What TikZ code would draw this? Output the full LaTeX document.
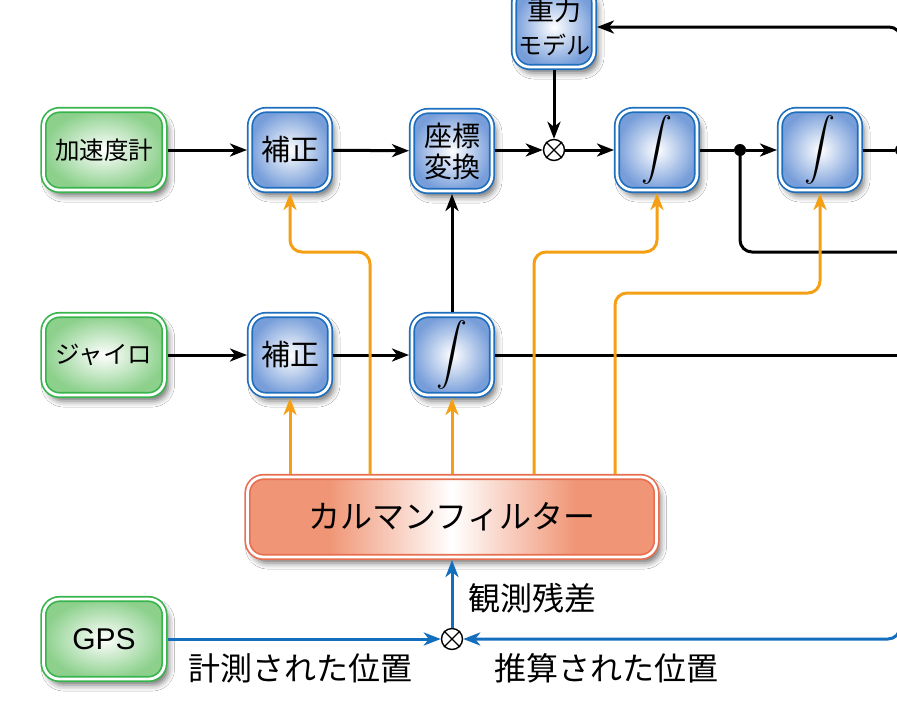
\documentclass[tikz,border=0pt]{standalone}
\usepackage{fontspec}
\setmainfont{Noto Sans CJK JP}
\newfontfamily\latinsans{Liberation Sans}
\usetikzlibrary{arrows.meta,shadows.blur,calc}

\definecolor{bline}{RGB}{30,110,190}
\definecolor{bfill}{RGB}{120,158,218}
\definecolor{gline}{RGB}{55,180,75}
\definecolor{gfill}{RGB}{140,208,140}
\definecolor{kline}{RGB}{232,110,80}
\definecolor{kfill}{RGB}{240,150,118}
\definecolor{oline}{RGB}{245,160,20}
\definecolor{wline}{RGB}{20,110,190}

\pgfdeclarehorizontalshading{kfshade}{100bp}{color(0bp)=(kfill); color(35bp)=(kfill); color(50bp)=(white); color(65bp)=(kfill); color(100bp)=(kfill)}

\begin{document}
\begin{tikzpicture}[x=1pt,y=-1pt,
  box/.style={rectangle, rounded corners=16pt, line width=1.7pt, double=white,
    double distance=2.8pt, inner sep=0pt, outer sep=3pt,
    minimum width=80pt, minimum height=80pt,
    blur shadow={shadow xshift=4pt, shadow yshift=-6pt, shadow blur radius=6pt, shadow opacity=55}},
  bbox/.style={box, draw=bline, inner color=white, outer color=bfill, font=\fontsize{29}{32}\selectfont},
  gbox/.style={box, draw=gline, inner color=white, outer color=gfill, minimum width=121pt, font=\fontsize{24.5}{28}\selectfont},
  kbox/.style={box, draw=kline, shading=kfshade, minimum width=409pt, font=\fontsize{32}{34}\selectfont},
  intbox/.style={bbox},
  mulnode/.style={circle, draw=black, line width=1.4pt, minimum size=21pt, inner sep=0pt, fill=white},
  dotn/.style={circle, fill=black, minimum size=12pt, inner sep=0pt},
  lab/.style={font=\fontsize{32}{34}\selectfont, inner sep=0pt},
  tip/.style={-{Stealth[length=17pt,width=13pt,inset=5pt]}},
  bl/.style={line width=3pt, draw=black},
  barr/.style={bl, tip},
  ol/.style={line width=3pt, draw=oline},
  oarr/.style={ol, tip},
  wl/.style={line width=3pt, draw=wline},
  warr/.style={wl, tip},
]
\useasboundingbox (0,0) rectangle (897,710);
\fill[white] (0,0) rectangle (897,710);
\clip (0,0) rectangle (897,710);

% nodes
\node[gbox] (acc) at (104,150) {加速度計};
\node[bbox] (cor1) at (290,150) {補正};
\node[bbox, align=center, font=\fontsize{28}{31}\selectfont] (coord) at (452,151) {座標\\変換};
\node[mulnode] (mul1) at (554,150) {};
\node[bbox, align=center, font=\fontsize{27}{34}\selectfont] (grav) at (554,27) {重力\\{\fontsize{24}{34}\selectfont モデル}};
\node[intbox] (int1) at (657,150) {\scalebox{3.1}{$\displaystyle\int$}};
\node[dotn] (dot1) at (740,150) {};
\node[intbox] (int2) at (820,150) {\scalebox{3.1}{$\displaystyle\int$}};
\node[dotn] (dot2) at (901,150) {};

\node[gbox] (gyro) at (104,355) {ジャイロ};
\node[bbox] (cor2) at (290,355) {補正};
\node[intbox] (int3) at (452,355) {\scalebox{3.1}{$\displaystyle\int$}};

\node[kbox] (kf) at (452,517) {カルマンフィルター};

\node[gbox, font=\latinsans\fontsize{30}{32}\selectfont] (gps) at (104,639) {GPS};
\node[mulnode] (mul2) at (452,639) {};

\node[lab, anchor=west] (resid) at (468,598) {観測残差};
\node[lab] (meas) at (300,668) {計測された位置};
\node[lab] (est) at (606,668) {推算された位置};

% crosses
\foreach \m in {mul1,mul2}{
  \draw[line width=1.2pt] (\m.north east) -- (\m.south west) (\m.north west) -- (\m.south east);
}

% coordinates
\coordinate (offA) at (920,252);
\coordinate (offB) at (920,355);
\coordinate (offC) at (900,500);
\coordinate (oa) at (370,252);
\coordinate (ob) at (534,252);
\coordinate (oc) at (615,293);

% black connectors
\draw[barr] (acc) -- (cor1);
\draw[barr] (cor1) -- (coord);
\draw[barr] (coord.east |- mul1) -- (mul1);
\draw[barr] (grav) -- (mul1);
\draw[barr] (mul1) -- (int1);
\draw[bl] (int1) -- (dot1);
\draw[barr] (dot1) -- (int2);
\draw[bl] (int2) -- (dot2);
\draw[barr, rounded corners=12pt] (dot2) |- (grav);
\draw[bl, rounded corners=12pt] (dot1) |- (offA);
\draw[barr] (gyro) -- (cor2);
\draw[barr] (cor2) -- (int3);
\draw[bl] (int3) -- (offB);
\draw[barr] (int3) -- (coord);

% orange connectors
\draw[oarr] (kf.north -| cor2.south) -- (cor2.south);
\draw[oarr] (kf.north -| int3.south) -- (int3.south);
\draw[oarr, rounded corners=12pt] (kf.north -| oa) -- (oa) -| (cor1.south);
\draw[oarr, rounded corners=12pt] (kf.north -| ob) -- (ob) -| (int1.south);
\draw[oarr, rounded corners=12pt] (kf.north -| oc) -- (oc) -| (int2.south);

% blue connectors
\draw[warr] (gps) -- (mul2);
\draw[warr] (mul2) -- (kf.south);
\draw[warr, rounded corners=12pt] (offC) |- (mul2);
\end{tikzpicture}
\end{document}
